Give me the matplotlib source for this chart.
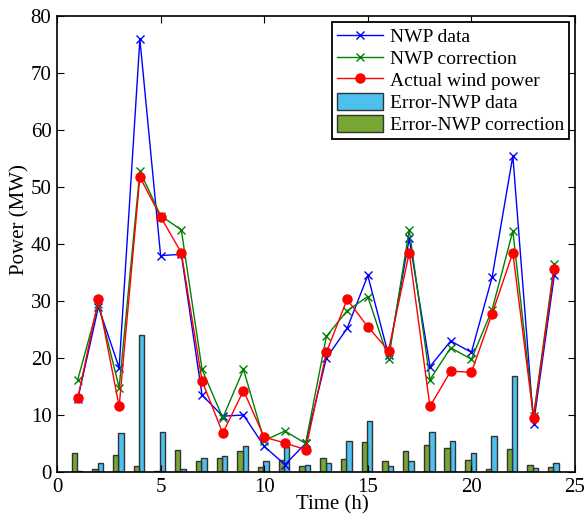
import numpy as np
import matplotlib
matplotlib.use("Agg")
import matplotlib.pyplot as plt

plt.rcParams['font.family'] = ['Liberation Serif', 'DejaVu Serif']
plt.rcParams['mathtext.fontset'] = 'stix'

hours = np.arange(1, 25)

nwp_data = [12.8, 29.0, 18.3, 76.0, 38.0, 38.2, 13.5, 9.8, 10.0, 4.5, 1.3, 5.0,
            20.0, 25.2, 34.5, 20.5, 41.0, 18.5, 23.0, 21.0, 34.2, 55.5, 8.5, 34.5]
nwp_corr = [16.2, 29.5, 14.8, 52.8, 45.0, 42.5, 18.0, 9.5, 18.0, 5.5, 7.2, 5.0,
            23.8, 28.3, 30.8, 19.8, 42.5, 16.2, 21.8, 19.8, 28.5, 42.3, 9.8, 36.5]
actual = [12.9, 30.3, 11.5, 51.8, 44.8, 38.5, 16.0, 6.8, 14.3, 6.1, 5.1, 3.9,
          21.0, 30.3, 25.5, 21.3, 38.5, 11.5, 17.7, 17.5, 27.8, 38.5, 9.5, 35.6]

err_data = [0.1, 1.5, 6.8, 24.0, 7.0, 0.6, 2.4, 2.8, 4.5, 1.9, 4.3, 1.3,
            1.5, 5.4, 9.0, 1.1, 1.9, 7.1, 5.4, 3.4, 6.4, 16.8, 0.7, 1.5]
err_corr = [3.4, 0.5, 3.0, 1.1, 0.2, 3.9, 2.0, 2.4, 3.6, 0.9, 2.1, 1.1,
            2.5, 2.3, 5.3, 1.9, 3.7, 4.7, 4.2, 2.1, 0.6, 4.0, 1.3, 0.8]

fig = plt.figure(figsize=(5.84, 5.19), dpi=100)
ax = fig.add_axes([0.0976, 0.0906, 0.887, 0.878])

ax.plot(hours, nwp_data, color='#0000ff', marker='x', ms=6, lw=1, label='NWP data')
ax.plot(hours, nwp_corr, color='#008000', marker='x', ms=6, lw=1, label='NWP correction')
ax.plot(hours, actual, color='#ff0000', marker='o', ms=6.5, lw=1, label='Actual wind power')

w = 0.26
ax.bar(hours - 0.04 + w / 2, err_data, width=w, color='#4cc0ee', edgecolor='#333333',
       lw=1, label='Error-NWP data')
ax.bar(hours - 0.04 - w / 2, err_corr, width=w, color='#77a633', edgecolor='#333333',
       lw=1, label='Error-NWP correction')

ax.set_xlim(0, 25)
ax.set_ylim(0, 80)
ax.set_xticks([0, 5, 10, 15, 20, 25])
ax.set_yticks(range(0, 81, 10))
ax.tick_params(direction='in', top=True, right=True, labelsize=15, length=5, pad=4)
for s in ax.spines.values():
    s.set_linewidth(1.2)
ax.set_xlabel('Time (h)', fontsize=15)
ax.set_ylabel('Power (MW)', fontsize=15)
ax.xaxis.set_label_coords(0.531, -0.052)
ax.yaxis.set_label_coords(-0.054, 0.553)

leg = ax.legend(loc='upper right', fontsize=14, fancybox=False, framealpha=1,
                edgecolor='black', borderpad=0.25, labelspacing=0.15, handlelength=2.4,
                handleheight=0.95, handletextpad=0.35, borderaxespad=0.3)
leg.get_frame().set_linewidth(1.3)

fig.savefig('out.png', dpi=100)
